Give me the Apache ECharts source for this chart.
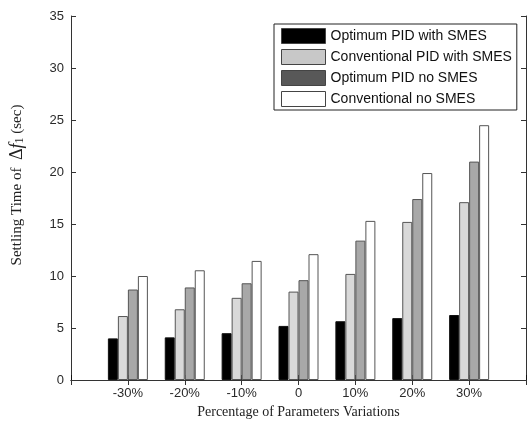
<!DOCTYPE html>
<html>
<head>
<meta charset="utf-8">
<script src="https://cdn.jsdelivr.net/npm/echarts@6/dist/echarts.min.js"></script>
<style>
html,body{margin:0;padding:0;background:#fff;}
#chart{width:529px;height:425px;}
</style>
</head>
<body>
<div id="chart"></div>
<script>
const categories = ['-30%', '-20%', '-10%', '0', '10%', '20%', '30%'];
const seriesNames = ['Optimum PID with SMES', 'Conventional PID with SMES', 'Optimum PID no SMES', 'Conventional no SMES'];
const optimumWithSMES = [4.0, 4.1, 4.5, 5.2, 5.65, 5.95, 6.25];
const conventionalWithSMES = [6.15, 6.8, 7.9, 8.5, 10.2, 15.2, 17.1];
const optimumNoSMES = [8.7, 8.9, 9.3, 9.6, 13.4, 17.4, 21.0];
const conventionalNoSMES = [10.0, 10.55, 11.45, 12.1, 15.3, 19.9, 24.5];
const yTicks = [0, 5, 10, 15, 20, 25, 30, 35];

// pad categories so that the axis spans 0..8 like the original
const xCats = [''].concat(categories, ['']);
const pad = arr => [null].concat(arr, [null]);

const barColors = ['#000000', '#d9d9d9', '#a8a8a8', '#ffffff'];
const legendColors = ['#000000', '#c8c8c8', '#585858', '#ffffff'];
const values = [optimumWithSMES, conventionalWithSMES, optimumNoSMES, conventionalNoSMES];

const chart = echarts.init(document.getElementById('chart'), null, {renderer: 'canvas'});
const tickFont = {fontFamily: 'Liberation Sans', fontSize: 13, color: '#2a2a2a'};
const lineStyle = {color: '#333', width: 1};

chart.setOption({
  animation: false,
  backgroundColor: '#fff',
  grid: {left: 71, top: 16, right: -2, bottom: 45, containLabel: false},
  legend: {
    orient: 'vertical',
    left: 274, top: 24,
    padding: [4, 5, 3, 7],
    itemGap: 5,
    itemWidth: 44, itemHeight: 15,
    icon: 'rect',
    borderColor: '#222', borderWidth: 1,
    backgroundColor: '#fff',
    textStyle: {fontFamily: 'Liberation Sans', fontSize: 14, color: '#111', lineHeight: 15},
    data: seriesNames.map((n, i) => ({name: n, itemStyle: {color: legendColors[i], borderColor: '#444', borderWidth: 1}}))
  },
  xAxis: [{
    type: 'category', data: xCats, boundaryGap: false, position: 'bottom',
    axisLine: {lineStyle: lineStyle},
    axisTick: {inside: true, length: 5, lineStyle: {color: '#111'}},
    axisLabel: Object.assign({margin: 7, interval: 0}, tickFont),
    splitLine: {show: false},
    name: 'Percentage of Parameters Variations',
    nameLocation: 'middle', nameGap: 21,
    nameTextStyle: {fontFamily: 'Liberation Serif', fontSize: 14, color: '#222'}
  }, {
    type: 'category', data: xCats, boundaryGap: false, position: 'top',
    axisLine: {lineStyle: lineStyle},
    axisTick: {inside: true, length: 5, lineStyle: lineStyle},
    axisLabel: {show: false}, splitLine: {show: false}
  }],
  yAxis: [{
    type: 'value', min: yTicks[0], max: yTicks[yTicks.length - 1], interval: 5, position: 'left',
    axisLine: {show: true, lineStyle: lineStyle},
    axisTick: {show: true, inside: true, length: 5, lineStyle: lineStyle},
    axisLabel: Object.assign({margin: 7}, tickFont),
    splitLine: {show: false},
    name: 'Settling Time of  {d|Δ}{f|f}{s|1} (sec)',
    nameLocation: 'middle', nameRotate: 90, nameGap: 45,
    nameTextStyle: {
      fontFamily: 'Liberation Serif', fontSize: 15, color: '#222',
      padding: [0, 0, 0, 26],
      rich: {
        d: {fontFamily: 'Liberation Serif', fontSize: 18, color: '#222'},
        f: {fontFamily: 'Liberation Serif', fontSize: 18, fontStyle: 'italic', color: '#222'},
        s: {fontFamily: 'Liberation Serif', fontSize: 12, color: '#222', verticalAlign: 'bottom', padding: [6, 0, 0, 0]}
      }
    }
  }, {
    type: 'value', min: yTicks[0], max: yTicks[yTicks.length - 1], interval: 5, position: 'right',
    axisLine: {show: true, lineStyle: lineStyle},
    axisTick: {show: true, inside: true, length: 5, lineStyle: lineStyle},
    axisLabel: {show: false}, splitLine: {show: false}
  }],
  series: seriesNames.map((n, i) => ({
    name: n, type: 'bar', xAxisIndex: 0, yAxisIndex: 0,
    data: pad(values[i]),
    barWidth: 10, barGap: '0%',
    itemStyle: {color: barColors[i], borderColor: i === 0 ? '#111' : '#555', borderWidth: 1}
  }))
});
</script>
</body>
</html>
